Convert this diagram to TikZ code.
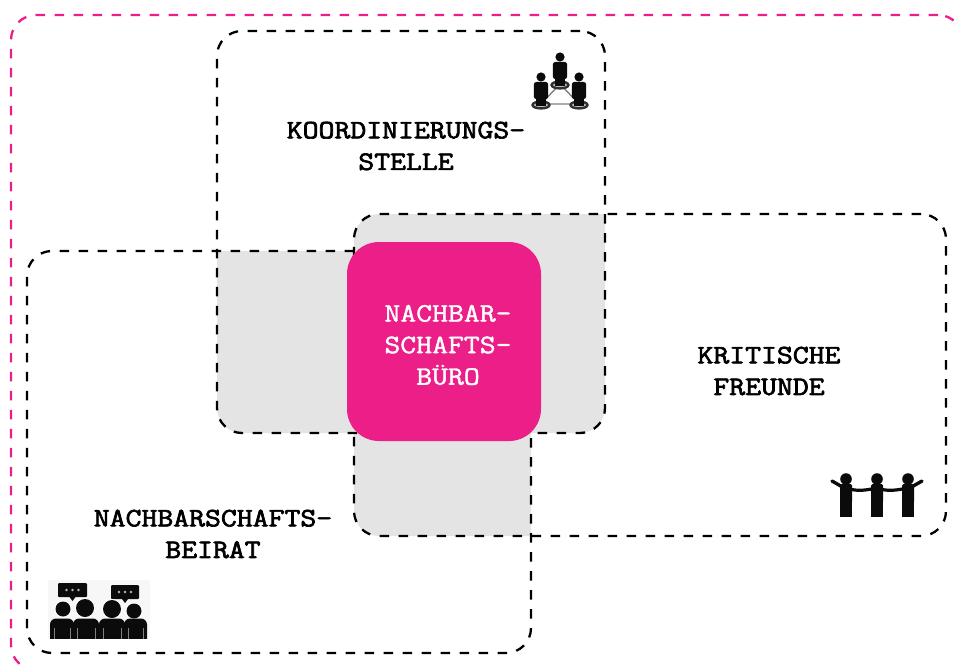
\documentclass[tikz,border=0pt]{standalone}
\usepackage{fontspec}
\usetikzlibrary{backgrounds}
\newfontfamily\capfont{Latin Modern Mono}[FakeBold=2.4]
\newfontfamily\corefont{Latin Modern Mono}[FakeBold=1.4]
\definecolor{hotpink}{HTML}{EC1E87}
\definecolor{overlap}{HTML}{E4E4E4}
\definecolor{iconbg}{HTML}{F7F7F7}
\definecolor{ink}{HTML}{0B0B0B}
\tikzset{
  x=1pt,y=-1pt,
  zone/.style={rectangle,draw=black,line width=2.3pt,dash pattern=on 9.5pt off 9.5pt,rounded corners=25pt,outer sep=0pt,inner sep=0pt},
  frame/.style={zone,draw=hotpink},
  core/.style={rectangle,fill=hotpink,rounded corners=32pt,outer sep=0pt,inner sep=0pt},
  caption/.style={align=center,inner sep=0pt,xscale=1.16,transform shape,
    font=\fontsize{26.6}{31.6}\selectfont\capfont},
  corecaption/.style={align=center,inner sep=0pt,xscale=1.16,transform shape,text=white,
    font=\fontsize{26.6}{31.6}\selectfont\corefont},
}
\begin{document}
\begin{tikzpicture}
\useasboundingbox (0,0) rectangle (955,666);
\begin{scope}
\clip (0,0) rectangle (955,666);
\node[frame,minimum width=952pt,minimum height=655pt] (outer) at (487,342.5) {};
\end{scope}
\node[zone,minimum width=388pt,minimum height=402pt] (koord) at (411,232) {};
\node[zone,minimum width=592pt,minimum height=322pt] (krit) at (650,375) {};
\node[zone,minimum width=504pt,minimum height=402pt] (beirat) at (279,452) {};
\begin{pgfonlayer}{background}
  \begin{scope}
    \clip[rounded corners=25pt] (koord.south west) rectangle (koord.north east);
    \fill[overlap,rounded corners=25pt] (beirat.south west) rectangle (beirat.north east);
    \fill[overlap,rounded corners=25pt] (krit.south west) rectangle (krit.north east);
  \end{scope}
  \begin{scope}
    \clip[rounded corners=25pt] (beirat.south west) rectangle (beirat.north east);
    \fill[overlap,rounded corners=25pt] (krit.south west) rectangle (krit.north east);
  \end{scope}
\end{pgfonlayer}
\node[core,minimum width=194pt,minimum height=199pt] (buero) at (444,341.5) {};
\node[corecaption] (bueroText) at (448,345) {NACHBAR-\\SCHAFTS-\\BÜRO};
\node[caption] (koordText) at (406,146) {KOORDINIERUNGS-\\STELLE};
\node[caption] (kritText) at (769,371) {KRITISCHE\\FREUNDE};
\node[caption] (beiratText) at (213,534) {NACHBARSCHAFTS-\\BEIRAT};
% network icon
\draw[gray,line width=1.4pt] (560,84) -- (541,104) -- (579,104) -- cycle;
\foreach \cx/\cy in {560/0,541/20,579/20}{
  \begin{scope}[shift={(\cx,\cy)}]
    \draw[ink!85,line width=2.4pt,fill=gray!50] (0,85) ellipse [x radius=8.5pt,y radius=3.4pt];
    \fill[ink] (0,57) circle [radius=4.6pt];
    \fill[ink,rounded corners=2.5pt] (-7.2,62) rectangle (7.2,79);
    \fill[ink] (-5.4,76) rectangle (-0.4,86);
    \fill[ink] (0.4,76) rectangle (5.4,86);
  \end{scope}}
% chain of people icon
\foreach \cx in {846,877,908}{
  \fill[ink] (\cx,479) circle [radius=5.8pt];
  \fill[ink,rounded corners=1.5pt] (\cx-6,484) rectangle (\cx+6,503);
  \fill[ink] (\cx-5.6,500) rectangle (\cx-0.3,517);
  \fill[ink] (\cx+0.3,500) rectangle (\cx+5.6,517);
}
\draw[ink,line width=3.4pt,line cap=round] (832,481) -- (846,489);
\draw[ink,line width=3.4pt,line cap=round] (922,481) -- (908,489);
\draw[ink,line width=3.2pt,line cap=round] (846,488) .. controls (858,492) and (866,490) .. (877,488);
\draw[ink,line width=3.2pt,line cap=round] (877,488) .. controls (888,492) and (897,490) .. (908,488);
% speaking people icon
\fill[iconbg] (48,580) rectangle (150,639);
\foreach \bx/\by/\bw/\bh in {58/583/29/14,111/585/28/14}{
  \fill[ink,rounded corners=1pt] (\bx,\by) rectangle (\bx+\bw,\by+\bh);
  \fill[ink] (\bx+\bw/2-3,\by+\bh) -- (\bx+\bw/2+3,\by+\bh) -- (\bx+\bw/2,\by+\bh+4) -- cycle;
  \foreach \k in {-6,0,6}{\fill[iconbg!75!black] (\bx+\bw/2+\k,\by+\bh/2) circle [radius=1.4pt];}
}
\foreach \hx/\hy/\r/\xa/\xb in {63/609/7.5/50/74,85/608/9/73/99,112/609/9/99/125,134/611/7.5/124/147}{
  \fill[white] (\hx,\hy) circle [radius=\r pt+1pt];
  \fill[ink] (\hx,\hy) circle [radius=\r pt];
  \fill[ink,rounded corners=6pt] (\xa,618.5) -- (\xb,618.5) -- (\xb,645) -- (\xa,645) -- cycle;
  \draw[gray,line width=0.8pt] (\xa+4,628) -- (\xa+4,639);
  \draw[gray,line width=0.8pt] (\xb-4,628) -- (\xb-4,639);
}
\fill[white] (48,639) rectangle (150,646);
\end{tikzpicture}
\end{document}
